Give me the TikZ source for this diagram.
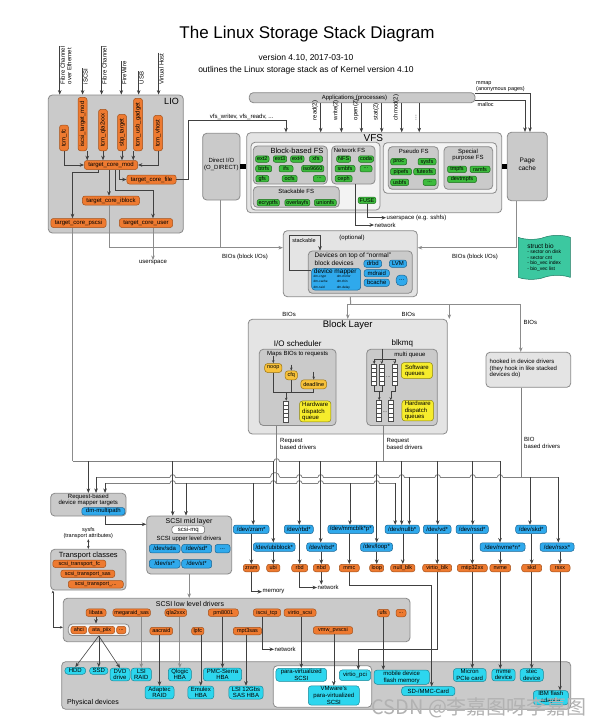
\documentclass[tikz,border=0pt]{standalone}
\usepackage{fontspec}
\setmainfont{Liberation Sans}
\newfontfamily\wmfont{Noto Sans CJK SC}
\usetikzlibrary{arrows.meta,fit,shapes.symbols}

\definecolor{boxgray}{HTML}{CACACA}
\definecolor{lightgray2}{HTML}{E4E4E4}
\definecolor{palegray}{HTML}{F3F3F3}
\definecolor{edgegray}{HTML}{8A8A8A}
\definecolor{orangeF}{HTML}{EE7A30}
\definecolor{orangeD}{HTML}{A4511A}
\definecolor{greenF}{HTML}{3DBB3D}
\definecolor{greenD}{HTML}{1E6E1E}
\definecolor{blueF}{HTML}{2FA9EC}
\definecolor{blueD}{HTML}{1B6694}
\definecolor{cyanF}{HTML}{2DD6EE}
\definecolor{cyanD}{HTML}{1A8797}
\definecolor{yellowF}{HTML}{F6EC2C}
\definecolor{yellowD}{HTML}{8C8414}
\definecolor{goldF}{HTML}{F7C13A}
\definecolor{goldD}{HTML}{9A7414}
\definecolor{tealF}{HTML}{3CC8A0}
\definecolor{tealD}{HTML}{1E7A62}

\newcommand\fsz[2]{\fontsize{#1}{#2}\selectfont}
% queue stack: name, x, top
\newcommand\qstack[3]{%
  \node[qbox, anchor=north] (#1) at (#2,#3) {};
  \foreach \k in {1,...,4}
    \draw[black!70, line width=0.4pt] ([yshift=-\k*4.2pt]#1.north west) -- ([yshift=-\k*4.2pt]#1.north east);}
% hop of a bus line over a crossing line: x, y
\newcommand\bushop[2]{%
  \fill[white] (#1-2.7,#2-0.8) rectangle (#1+2.7,#2+0.8);
  \draw[bus] (#1-2.7,#2) arc[start angle=180, end angle=360, radius=2.7];}

\begin{document}
\begin{tikzpicture}[x=1pt,y=-1pt]
\tikzset{ >={Stealth[length=4.5pt,width=3.6pt]},
  box/.style={draw=edgegray, fill=boxgray, rounded corners=4pt, line width=0.8pt, inner sep=0pt},
  lbox/.style={box, fill=lightgray2},
  pbox/.style={box, fill=palegray},
  pill/.style={rounded corners=2.5pt, line width=0.5pt, inner ysep=0.6pt, minimum height=8pt, font=\fsz{6}{6.5}},
  opill/.style={pill, fill=orangeF, draw=orangeD, inner xsep=1.5pt, font=\fsz{5.5}{6}, minimum height=7.5pt},
  liopill/.style={pill, fill=orangeF, draw=orangeD, inner xsep=4pt, minimum height=9pt},
  gpill/.style={pill, fill=greenF, draw=greenD, inner xsep=1.5pt, minimum height=6.5pt, font=\fsz{5.5}{6}, rounded corners=2pt},
  bpill/.style={pill, fill=blueF, draw=blueD, inner xsep=2pt, minimum height=8.5pt},
  cpill/.style={pill, fill=cyanF, draw=cyanD, inner xsep=3pt, inner ysep=1pt, align=center, minimum height=7pt, font=\fsz{6}{6.6}, rounded corners=3pt},
  ypill/.style={pill, fill=yellowF, draw=yellowD, align=left, inner xsep=1.5pt, font=\fsz{6}{6.2}, rounded corners=3pt},
  qpill/.style={pill, fill=goldF, draw=goldD, inner xsep=2.5pt, minimum height=9pt, font=\fsz{5.5}{6}, rounded corners=3pt},
  qbox/.style={draw=black!70, fill=white, line width=0.5pt, minimum width=5pt, minimum height=21pt, inner sep=0pt},
  lbl/.style={font=\fsz{6}{6.7}, inner sep=0.5pt},
  link/.style={draw=black!75, line width=0.6pt},
  glink/.style={draw=black!45, line width=1pt},
  bus/.style={draw=black!50, line width=0.8pt},
  sarr/.style={-{Stealth[length=3pt,width=2.6pt]}},
  darr/.style={{Stealth[length=3pt,width=2.6pt]}-{Stealth[length=3pt,width=2.6pt]}},
}

\fill[white] (0,0) rectangle (596,728);
\useasboundingbox (0,0) rectangle (596,728);

% title
\node[font=\fsz{17}{20}] (title) at (307,34) {The Linux Storage Stack Diagram};
\node[font=\fsz{8.5}{10}] (vers) at (306,58) {version 4.10, 2017-03-10};
\node[font=\fsz{8.5}{10}] (outl) at (306,70) {outlines the Linux storage stack as of Kernel version 4.10};

% LIO
\node[box, fit={(48.3,95) (183.3,233)}] (lio) {};
\node[font=\fsz{9}{10}] (liot) at (171.5,101.5) {LIO};

\node[lbl, rotate=90, anchor=west, align=left] (lfcoe) at (66,85) {Fibre Channel\\over Ethernet};
\node[lbl, rotate=90, anchor=west] (lisc) at (85.5,85) {iSCSI};
\node[lbl, rotate=90, anchor=west] (lfc) at (104.5,85) {Fibre Channel};
\node[lbl, rotate=90, anchor=west] (lfw) at (124.2,85) {FireWire};
\node[lbl, rotate=90, anchor=west] (lusb) at (141.5,85) {USB};
\node[lbl, rotate=90, anchor=west] (lvh) at (161.5,85) {Virtual Host};
\foreach \lv in {lfcoe,lisc,lfc,lfw,lusb,lvh}
  \draw[link,->] (\lv.north east) -- (\lv.north east |- lio.north);

\node[liopill, rotate=90, anchor=west] (tcmfc) at (64,151) {tcm\_fc};
\node[liopill, rotate=90, anchor=west] (iscsi) at (82.5,151) {iscsi\_target\_mod};
\node[liopill, rotate=90, anchor=west] (tcmqla) at (103,151) {tcm\_qla2xxx};
\node[liopill, rotate=90, anchor=west] (sbp) at (122,151) {sbp\_target};
\node[liopill, rotate=90, anchor=west] (tcmusb) at (138,151) {tcm\_usb\_gadget};
\node[liopill, rotate=90, anchor=west] (vhost) at (158,151) {tcm\_vhost};

\node[liopill] (tcmmod) at (111,165) {target\_core\_mod};
\node[liopill] (tcmfile) at (151.5,179.5) {target\_core\_file};
\node[liopill] (tcmibl) at (111,200.5) {target\_core\_iblock};
\node[liopill] (tcmpscsi) at (78.5,223) {target\_core\_pscsi};
\node[liopill] (tcmuser) at (146,223) {target\_core\_user};

\draw[link,->] (tcmfc.west) |- (tcmmod.west);
\draw[link,->] (iscsi.south west) -- (iscsi.south west |- tcmmod.north);
\draw[link,->] (tcmqla.west) -- (tcmqla.west |- tcmmod.north);
\draw[link,->] (sbp.west) -- (sbp.west |- tcmmod.north);
\draw[link,->] (tcmusb.north west) -- (tcmusb.north west |- tcmmod.north);
\draw[link,->] (vhost.west) |- (tcmmod.east);

\draw[link,->] ([xshift=-13pt]tcmmod.south) -- ++(0,3) -| ([xshift=-6pt]tcmpscsi.north);
\draw[link,->] ([xshift=-2pt]tcmmod.south) -- ([xshift=-2pt]tcmibl.north);
\draw[link,->] ([xshift=8pt]tcmmod.south) |- (tcmfile.west);
\draw[link,->] ([xshift=4pt]tcmmod.south) -- ++(0,21) -| ([xshift=7pt]tcmuser.north);

\node[lbl] (usp) at (153,263) {userspace};
\draw[glink,->] ([xshift=7pt]tcmuser.south) -- (usp.north);

% applications, syscalls
\node[box, fit={(249.3,92.7) (475,102.7)}] (apps) {};
\node[lbl] (appst) at (354.5,97.7) {Applications (processes)};

\node[box, fit={(202.7,133.3) (240,200)}, font=\fsz{6}{7}, align=center] (dio) {Direct I/O\\(O\_DIRECT)};
\node[box, fit={(507.3,132.3) (547.3,200.7)}, font=\fsz{6.5}{7.5}, align=center] (pgc) {Page\\cache};

% VFS
\node[lbox, fit={(246.7,132.7) (501.7,212.7)}] (vfs) {};
\node[font=\fsz{10}{11}] (vfst) at (373.3,137.8) {VFS};
\node[pbox, fit={(251,142.3) (380,210)}] (vfsa) {};
\node[pbox, fit={(383.3,142.7) (496.7,193.3)}] (vfsb) {};

\foreach \n/\t/\x in {rd/read(2)/315, wr/write(2)/335.7, op/open(2)/355.7, st/stat(2)/376, ch/chmod(2)/396}{
  \node[lbl, rotate=90, anchor=west] (sc\n) at (\x,121) {\t};
  \draw[link,->] ([xshift=2.2pt]sc\n.south |- apps.south) -- ([xshift=2.2pt]sc\n.south |- vfs.north);
}
\node[lbl, rotate=90, anchor=west] (scdt) at (416,121) {...};
\draw[link,->] ([xshift=2.2pt]scdt.south |- apps.south) -- ([xshift=2.2pt]scdt.south |- vfs.north);

\node[lbl, anchor=south] (vfsw) at (241.7,120.5) {vfs\_writev, vfs\_readv, ...};
\draw[link,->] (tcmfile.east) -- ++(12,0) |- (vfsw.south) -| ([xshift=-88.2pt]vfs.north);

\draw[line width=4.5pt] (dio.east) -- (dio.east -| vfs.west);
\draw[line width=4.5pt] (pgc.west -| vfs.east) -- (pgc.west);

\node[font=\fsz{5.5}{6}, anchor=south west, align=left, inner sep=0.5pt] (mmapl) at (475.5,92.5) {mmap\\(anonymous pages)};
\node[font=\fsz{5.5}{6}, anchor=north west, inner sep=0.5pt] (mallocl) at (477,101.8) {malloc};
\draw[link,->] ([yshift=4.5pt]apps.east) -| ([xshift=2.7pt]pgc.north);
\draw[link,->] ([yshift=-3pt]apps.east) -| ([xshift=-2.3pt]pgc.north);

% block-based FS
\node[box, fit={(253.3,146) (327.3,184)}] (bbfs) {};
\node[font=\fsz{7.5}{8}] (bbfst) at (297,150.7) {Block-based FS};
\node[gpill] (ext2) at (262.3,159) {ext2};
\node[gpill] (ext3) at (280,159) {ext3};
\node[gpill] (ext4) at (297.3,159) {ext4};
\node[gpill, minimum width=13pt] (xfs) at (316,159) {xfs};
\node[gpill, minimum width=16pt] (btrfs) at (263.7,168.7) {btrfs};
\node[gpill, minimum width=14pt] (ifs) at (286,168.7) {ifs};
\node[gpill] (iso) at (312.7,168.7) {iso9660};
\node[gpill, minimum width=13pt] (gfs) at (262.3,178.7) {gfs};
\node[gpill, minimum width=15pt] (ocfs) at (289.7,178.7) {ocfs};
\node[gpill, minimum width=12pt] (bbdots) at (319.3,178.7) {...};

% network FS
\node[box, fit={(331.7,146) (375,184)}] (nfsb) {};
\node[lbl] (nfst) at (349.5,150.7) {Network FS};
\node[gpill, minimum width=14pt] (nfs) at (343.7,159) {NFS};
\node[gpill, minimum width=15pt] (coda) at (366,159) {coda};
\node[gpill, minimum width=20pt] (smbfs) at (345,168.7) {smbfs};
\node[gpill, minimum width=12pt] (nfdots) at (366,168.7) {...};
\node[gpill, minimum width=17pt] (ceph) at (343.7,178.7) {ceph};

% stackable FS
\node[box, fit={(253.3,186.7) (339.3,207.3)}] (skfs) {};
\node[lbl] (skfst) at (296.3,191.7) {Stackable FS};
\node[gpill, minimum width=22pt] (ecr) at (268.3,202.7) {ecryptfs};
\node[gpill, minimum width=25pt] (ovl) at (297.3,202.7) {overlayfs};
\node[gpill, minimum width=22pt] (uni) at (325.3,202.7) {unionfs};
\node[gpill, minimum width=12pt] (fuse) at (367,200.3) {FUSE};

\node[lbl, anchor=west] (usp2) at (386,217.7) {userspace (e.g. sshfs)};
\node[lbl, anchor=west] (netv) at (374,225) {network};
\draw[link,->] (fuse.south) |- (usp2.west);
\draw[link,->] ([xshift=2.4pt]nfsb.south) |- (netv.west);

% pseudo FS
\node[box, fit={(388.3,146.7) (438.3,189.3)}] (psfs) {};
\node[lbl] (psfst) at (413.8,151) {Pseudo FS};
\node[gpill, minimum width=16pt] (proc) at (398.7,161.7) {proc};
\node[gpill, minimum width=18pt] (sysfs) at (427,161.7) {sysfs};
\node[gpill, minimum width=21pt] (pipefs) at (401,171.7) {pipefs};
\node[gpill, minimum width=22pt] (futex) at (424.7,171.7) {futexfs};
\node[gpill, minimum width=18pt] (usbfs) at (399.7,182.3) {usbfs};
\node[gpill, minimum width=13pt] (psdots) at (429.7,182.3) {...};

% special purpose FS
\node[box, fit={(444,146.7) (492.7,189.3)}] (spfs) {};
\node[lbl, align=center] (spfst) at (468,154.8) {Special\\purpose FS};
\node[gpill, minimum width=19pt] (tmpfs) at (457,169.3) {tmpfs};
\node[gpill, minimum width=20pt] (ramfs) at (480,169.3) {ramfs};
\node[gpill, minimum width=29pt] (devtmp) at (462,179.3) {devtmpfs};

% struct bio
\node[tape, tape bend height=4pt, fill=tealF, draw=tealD, line width=0.5pt,
  minimum width=52pt, minimum height=44pt, anchor=north west, align=left, inner xsep=4pt,
  font=\fsz{5}{5.6}] (sbio) at (518,237) {{\fsz{6.5}{8}struct bio}\\- sector on disk\\- sector cnt\\- bio\_vec index\\- bio\_vec list};

% stacked block devices
\node[lbox, fit={(283.3,230.7) (417.3,296.7)}] (stk) {};
\node[lbl] (optl) at (352,238.3) {(optional)};
\node[box, fit={(308.3,251) (412.3,293.3)}] (devb) {};
\node[font=\fsz{6.5}{7.3}, anchor=north west, align=left, inner sep=0pt] (devbt) at (314.5,252.8) {Devices on top of ``normal''\\block devices};
\node[fill=blueF, draw=blueD, rounded corners=3pt, line width=0.5pt, inner sep=0pt, fit={(311.7,268.3) (360.7,290)}] (dmbox) {};
\node[font=\fsz{6.5}{7}, anchor=west, inner sep=0pt] (dmt) at (313.7,271.9) {device mapper};
\node[font=\fsz{3.2}{5.2}, anchor=north west, align=left, inner sep=0pt] (dmla) at (313.5,275.2) {dm-crypt\\dm-cache\\dm-raid};
\node[font=\fsz{3.2}{5.2}, anchor=north west, align=left, inner sep=0pt] (dmlb) at (336.7,275.2) {dm-mirror\\dm-thin\\dm-delay};
\node[bpill, minimum height=7.3pt, minimum width=17.7pt] (drbd) at (372.8,263.7) {drbd};
\node[bpill, minimum height=7.3pt, minimum width=17.3pt] (lvm) at (398,263.7) {LVM};
\node[bpill, minimum height=7.3pt, minimum width=25.3pt] (mdraid) at (376.7,273.3) {mdraid};
\node[bpill, minimum height=7.3pt, minimum width=25.3pt] (bcache) at (376.7,282.7) {bcache};
\node[bpill, minimum height=10.5pt, minimum width=11pt, rounded corners=4pt] (stdots) at (401.7,280.3) {...};

\node[font=\fsz{5.5}{6}, inner sep=0pt] (stkl) at (304,240.4) {stackable};
\draw[link,->] ([yshift=-2pt]dmbox.north west) -- ++(-21.7,0) |- ([xshift=-40.3pt,yshift=15pt]devb.north) -- ([xshift=-40.3pt]devb.north);

\node[lbl] (biosl) at (245,256.7) {BIOs (block I/Os)};
\node[lbl] (biosr) at (475,256.7) {BIOs (block I/Os)};
\draw[glink,->] ([xshift=-2pt]tcmibl.south) |- ([yshift=16pt]stk.west);
\draw[glink] ([xshift=-1.3pt]dio.south) -- ([xshift=-1.3pt,yshift=16pt]dio.south |- stk.west);
\draw[glink,->] ([xshift=-11.3pt]pgc.south) |- ([yshift=16pt]stk.east);

% block layer
\node[lbox, fit={(248.3,319.3) (447.3,434)}] (blk) {};
\node[font=\fsz{9.5}{10}] (blkt) at (347.7,325.5) {Block Layer};
\node[lbox, fit={(486,352.3) (570.7,387.3)}] (hook) {};
\node[lbl, anchor=north west, align=left] (hookt) at (489,358.5) {hooked in device drivers\\(they hook in like stacked\\devices do)};

\coordinate (bioJ) at (350.7,304);
\draw[glink] (stk.south) -- (bioJ);
\draw[glink,->] (bioJ) -| (blk.north);
\draw[glink,->] (bioJ) -| ([xshift=101.5pt]blk.north);
\draw[glink,->] (bioJ) -| ([xshift=-7.6pt]hook.north);
\node[lbl, anchor=east] (bios1) at (296.5,314.3) {BIOs};
\node[lbl, anchor=west] (bios2) at (401,314.3) {BIOs};
\node[lbl, anchor=west] (bios3) at (523,322) {BIOs};

% I/O scheduler
\node[font=\fsz{8}{9}] (iost) at (297.7,343.3) {I/O scheduler};
\node[box, fit={(259.3,349.3) (336,425.5)}] (ioin) {};
\node[lbl] (iomap) at (297.7,353.8) {Maps BIOs to requests};
\node[qpill] (noop) at (273.3,368) {noop};
\node[qpill] (cfq) at (291.3,375.3) {cfq};
\node[qpill] (ddl) at (313.7,384.3) {deadline};
\draw[link,sarr] ([yshift=7pt]noop.north) -- (noop.north);
\draw[link,sarr] ([yshift=6pt]cfq.north) -- (cfq.north);
\draw[link,sarr] ([yshift=8pt]ddl.north) -- (ddl.north);
\coordinate (ioM) at (286.2,392.7);
\qstack{sq}{286.2}{400.7}
\draw[link] (noop.south) -- (noop.south |- ioM) -- (ddl.south |- ioM) -- (ddl.south);
\draw[link] (cfq.south) -- (cfq.south |- ioM);
\draw[link,sarr] (ioM) -- (sq.north);
\node[ypill, minimum width=31.4pt, minimum height=21pt, anchor=north west] (hwq) at (299.3,400.7) {Hardware\\dispatch\\queue};

% blk-mq
\node[font=\fsz{8}{9}] (mqt) at (402.3,343.3) {blkmq};
\node[box, fit={(366.7,349.3) (437.3,425.5)}] (mqin) {};
\node[lbl] (mqml) at (410,355) {multi queue};
\qstack{sw1}{374.2}{364}
\qstack{sw2}{381.8}{364}
\qstack{sw3}{394.8}{364}
\qstack{hw1}{379.2}{400.2}
\qstack{hw2}{390.8}{400.2}
\node[font=\fsz{5}{5}, inner sep=0pt] (swdots) at (388.3,377) {...};
\node[font=\fsz{5}{5}, inner sep=0pt] (hwdots) at (385,412) {...};
\node[ypill, anchor=north west, minimum width=31.3pt, minimum height=16pt] (swq) at (401,362.3) {Software\\queues};
\node[ypill, anchor=north west, minimum width=31.6pt, minimum height=20.7pt] (hwqs) at (401.7,400) {Hardware\\dispatch\\queues};
\coordinate (mqS) at (381.8,359);
\draw[link,sarr] (sw2.north |- mqin.north) -- (sw2.north);
\draw[link] (sw1.north |- mqS) -- (sw3.north |- mqS);
\draw[link,sarr] (sw1.north |- mqS) -- (sw1.north);
\draw[link,sarr] (sw3.north |- mqS) -- (sw3.north);
\coordinate (mqL) at (379.2,391);
\coordinate (mqR) at (390.8,391);
\draw[link] (sw1.south) |- (mqL);
\draw[link] (sw2.south) |- (mqL);
\draw[link,sarr] (mqL) -- (hw1.north);
\draw[link] (sw3.south) |- (mqR);
\draw[link,sarr] (mqR) -- (hw2.north);

% driver buses: A blk-mq, B BIO based, C single queue
\coordinate (busAl) at (72.5,461.3);
\coordinate (busAr) at (500,461.3);
\coordinate (busBl) at (96,477.3);
\coordinate (busBr) at (558.3,477.3);
\coordinate (busCl) at (105,483.3);
\coordinate (busCr) at (395.2,483.3);
\draw[bus] (busAl) -- (busAr);
\draw[bus] (busBl) -- (busBr);
\draw[bus] (busCl) -- (busCr);
\bushop{276.7}{461.3}
\foreach \hx in {172.7,299.3,320.7,376.7,401.7,437.7,472.7,500}{\bushop{\hx}{477.3}}
\fill[white] (270.3,476.5) rectangle (279.7,478.1);
\draw[bus] (270.3,477.3) arc[start angle=180, end angle=360, radius=4.7];
\foreach \hx in {172.7,273.3,299.3,320.7,376.7}{\bushop{\hx}{483.3}}

\draw[glink] ([xshift=-6pt]tcmpscsi.south) -- (busAl);
\draw[bus] ([xshift=-21pt]ioin.south) -- ([xshift=-21pt]ioin.south |- busCl);
\draw[bus] ([xshift=-18.7pt]mqin.south) -- ([xshift=-18.7pt]mqin.south |- busAl);
\draw[bus] ([xshift=-6.6pt]hook.south) -- ([xshift=-6.6pt]hook.south |- busBl);
\node[lbl, anchor=north west, align=left] (rqa) at (279.5,437.5) {Request\\based drivers};
\node[lbl, anchor=north west, align=left] (rqb) at (386,437.5) {Request\\based drivers};
\node[lbl, anchor=north west, align=left] (biod) at (523.5,437) {BIO\\based drivers};

% request-based device mapper, transport classes
\node[box, fit={(50.7,493.3) (126,516)}] (rdm) {};
\node[lbl, align=center] (rdmt) at (88.3,499.8) {Request-based\\device mapper targets};
\node[bpill, minimum height=7.5pt, minimum width=43pt] (mpath) at (103.3,511.3) {dm-multipath};
\node[lbl, font=\fsz{5.5}{6.3}, align=center] (sysfsl) at (88.3,532.8) {sysfs\\(transport attributes)};
\node[box, fit={(50.7,549.3) (126,590)}] (trc) {};
\node[font=\fsz{7.5}{8.5}] (trct) at (88.3,555.3) {Transport classes};
\node[opill, minimum width=53pt] (stfc) at (79.3,563.8) {scsi\_transport\_fc};
\node[opill, minimum width=54pt] (stsas) at (87.8,573.8) {scsi\_transport\_sas};
\node[opill, minimum width=55pt] (stdot) at (95.8,584.3) {scsi\_transport\_...};
\draw[link,darr] (sysfsl.south) -- (sysfsl.south |- trc.north);

% SCSI mid layer
\node[box, fit={(146.7,516) (231.7,574)}] (midl) {};
\node[font=\fsz{7}{8}] (midt) at (189,521.5) {SCSI mid layer};
\node[pill, fill=white, draw=black!60, inner xsep=6pt, minimum height=7.5pt] (smq) at (188.3,529.7) {scsi-mq};
\node[lbl] (uldt) at (189,538.7) {SCSI upper level drivers};
\node[bpill, minimum width=30.7pt] (sda) at (164.7,548.7) {/dev/sda};
\node[bpill, minimum width=30pt] (sdx) at (196.7,548.7) {/dev/sd*};
\node[bpill, minimum width=15pt] (ulddots) at (222.5,548.7) {...};
\node[bpill, minimum width=30.7pt] (srx) at (164.7,563.8) {/dev/sr*};
\node[bpill, minimum width=30pt] (stx) at (196.7,563.8) {/dev/st*};

\draw[link,->] (rdm.north |- busAl) -- (rdm.north);
\draw[link,->] ([xshift=7.7pt]rdm.north |- busBl) -- ([xshift=7.7pt]rdm.north);
\draw[link,->] ([xshift=16.7pt]rdm.north |- busCl) -- ([xshift=16.7pt]rdm.north);
\draw[link,->] ([xshift=-16.5pt]midl.north |- busAl) -- ([xshift=-16.5pt]midl.north);
\draw[link,->] ([xshift=-3.2pt]midl.north |- busCl) -- ([xshift=-3.2pt]midl.north);
\draw[link,->] ([xshift=16.7pt]rdm.south) |- ([yshift=20.7pt]midl.west);

% block device nodes
\node[bpill, minimum width=35.7pt] (zramd) at (251.2,529.3) {/dev/zram*};
\node[bpill, minimum width=41.7pt] (ubid) at (274.2,547) {/dev/ubiblock*};
\node[bpill, minimum width=29pt] (rbdd) at (298.8,529.3) {/dev/rbd*};
\node[bpill, minimum width=30pt] (nbdd) at (321.7,547) {/dev/nbd*};
\node[bpill, minimum width=45pt] (mmcd) at (350.8,529.3) {/dev/mmcblk*p*};
\node[bpill, minimum width=32pt] (loopd) at (376.5,547) {/dev/loop*};
\node[bpill, minimum width=34.3pt] (nulld) at (402.2,529.3) {/dev/nullb*};
\node[bpill, minimum width=27.7pt] (vdd) at (437.2,529.3) {/dev/vd*};
\node[bpill, minimum width=32.3pt] (rssdd) at (472.2,529.3) {/dev/rssd*};
\node[bpill, minimum width=45pt] (nvmed) at (502.5,547) {/dev/nvme*n*};
\node[bpill, minimum width=31pt] (skdd) at (531.2,529.3) {/dev/skd*};
\node[bpill, minimum width=34pt] (rsxxd) at (557,547) {/dev/rsxx*};

\draw[link,->] ([xshift=2pt]zramd.north |- busCl) -- ([xshift=2pt]zramd.north);
\draw[link,->] ([xshift=-0.9pt]ubid.north |- busAl) -- ([xshift=-0.9pt]ubid.north);
\draw[link,->] ([xshift=0.5pt]rbdd.north |- busAl) -- ([xshift=0.5pt]rbdd.north);
\draw[link,->] ([xshift=-1pt]nbdd.north |- busAl) -- ([xshift=-1pt]nbdd.north);
\draw[link,->] ([xshift=-0.8pt]mmcd.north |- busCl) -- ([xshift=-0.8pt]mmcd.north);
\draw[link,->] ([xshift=0.2pt]loopd.north |- busAl) -- ([xshift=0.2pt]loopd.north);
\draw[link,->] ([xshift=-7pt]nulld.north |- busCl) -- ([xshift=-7pt]nulld.north);
\draw[link,->] ([xshift=-0.5pt]nulld.north |- busAl) -- ([xshift=-0.5pt]nulld.north);
\draw[link,->] ([xshift=7.1pt]nulld.north |- busBl) -- ([xshift=7.1pt]nulld.north);
\draw[link,->] ([xshift=0.5pt]vdd.north |- busAl) -- ([xshift=0.5pt]vdd.north);
\draw[link,->] ([xshift=0.5pt]rssdd.north |- busAl) -- ([xshift=0.5pt]rssdd.north);
\draw[link,->] ([xshift=-2.5pt]nvmed.north |- busAl) -- ([xshift=-2.5pt]nvmed.north);
\draw[link,->] ([xshift=-1.2pt]skdd.north |- busBl) -- ([xshift=-1.2pt]skdd.north);
\draw[link,->] ([xshift=1.3pt]rsxxd.north |- busBl) -- ([xshift=1.3pt]rsxxd.north);

% block drivers
\node[opill, minimum width=16pt] (zram) at (251.3,568) {zram};
\node[opill, minimum width=13.3pt] (ubi) at (273.3,568) {ubi};
\node[opill, minimum width=16pt] (rbd) at (299.7,568) {rbd};
\node[opill, minimum width=16pt] (nbd) at (321.3,568) {nbd};
\node[opill, minimum width=20pt] (mmc) at (349.3,568) {mmc};
\node[opill, minimum width=14pt] (loop) at (376.7,568) {loop};
\node[opill, minimum width=24.3pt] (nullblk) at (402.8,568) {null\_blk};
\node[opill, minimum width=29pt] (vblk) at (437.2,568) {virtio\_blk};
\node[opill, minimum width=30pt] (mtip) at (472.3,568) {mtip32xx};
\node[opill, minimum width=20.7pt] (nvme) at (500.3,568) {nvme};
\node[opill, minimum width=20pt] (skd) at (531.7,568) {skd};
\node[opill, minimum width=20pt] (rsxx) at (560,568) {rsxx};
\foreach \dv/\rv in {zramd/zram, ubid/ubi, rbdd/rbd, nbdd/nbd, mmcd/mmc, loopd/loop, nulld/nullblk, vdd/vblk, rssdd/mtip, nvmed/nvme, skdd/skd, rsxxd/rsxx}
  \draw[link,->] (\dv.south -| \rv.north) -- (\rv.north);

\node[lbl, anchor=west] (meml) at (262,591.7) {memory};
\node[lbl, anchor=west] (netl2) at (317,587.5) {network};
\draw[link,->] (zram.south) |- (meml.west);
\draw[link,->] (rbd.south) |- (netl2.west);
\draw[link,->] (nbd.south) -- (nbd.south |- netl2.north);

% SCSI low level drivers
\node[box, fit={(63.3,598.3) (410,641.7)}] (lld) {};
\node[font=\fsz{7}{8}] (lldt) at (190,603.5) {SCSI low level drivers};
\draw[glink,->] (midl.south) -- (midl.south |- lld.north);
\draw[link,darr] ([xshift=2.6pt]trc.south west) |- ([yshift=-7.3pt]lld.west);

\node[opill, minimum width=20pt] (libata) at (96,612.7) {libata};
\node[opill, minimum width=33.3pt] (mega) at (131.7,612.7) {megaraid\_sas};
\node[opill, minimum width=18.3pt] (qla) at (175.8,612.7) {qla2xxx};
\node[opill, minimum width=30pt] (pm) at (223.3,612.7) {pm8001};
\node[opill, minimum width=27.4pt] (istcp) at (267,612.7) {iscsi\_tcp};
\node[opill, minimum width=32pt] (vscsi) at (300,612.7) {virtio\_scsi};
\node[opill, minimum width=12pt] (ufs) at (383.3,613) {ufs};
\node[opill, minimum width=10pt] (llddots) at (401,613) {...};
\node[pbox, fit={(68.3,624) (129.3,635.5)}] (ahcig) {};
\node[opill, minimum width=15.7pt] (ahci) at (78.8,630) {ahci};
\node[opill, minimum width=26pt] (piix) at (101.7,630) {ata\_piix};
\node[opill, minimum width=9.3pt] (ahdots) at (121.3,630) {...};
\node[opill, minimum width=22.7pt] (aac) at (161.3,631) {aacraid};
\node[opill, minimum width=12.3pt] (lpfc) at (197.8,631) {lpfc};
\node[opill, minimum width=28.4pt] (mpt) at (247.5,631) {mpt3sas};
\node[opill, minimum width=39.4pt] (vmw) at (333,630.3) {vmw\_pvscsi};
\draw[link,->] (libata.south) -- (libata.south |- ahcig.north);
\node[lbl, anchor=west] (netl3) at (274,649.3) {network};
\draw[link,->] ([xshift=-4.3pt]istcp.south) |- (netl3.west);

% physical devices
\node[box, fit={(61.7,661.7) (570.7,709.3)}] (phys) {};
\node[pbox, fill=white, fit={(273.3,665.7) (371.7,707.3)}] (virt) {};
\node[font=\fsz{7}{8}, anchor=west] (physt) at (63.5,702.7) {Physical devices};
\node[cpill, minimum width=20.7pt] (hdd) at (75.3,670.8) {HDD};
\node[cpill, minimum width=17.7pt] (ssd) at (98.8,670.8) {SSD};
\node[cpill, minimum width=20pt] (dvd) at (120,674.5) {DVD\\drive};
\node[cpill, minimum width=17.3pt] (lsir) at (141.3,674.5) {LSI\\RAID};
\node[cpill, minimum width=21.7pt] (qlog) at (179.8,674.5) {Qlogic\\HBA};
\node[cpill, minimum width=38.4pt] (pmc) at (222.5,674.5) {PMC-Sierra\\HBA};
\node[cpill, minimum width=29pt] (adap) at (159.5,692.5) {Adaptec\\RAID};
\node[cpill, minimum width=25pt] (emul) at (200.8,692.5) {Emulex\\HBA};
\node[cpill, minimum width=33.4pt] (lsi12) at (246,692.5) {LSI 12Gbs\\SAS HBA};
\node[cpill, minimum width=50.7pt] (pvs) at (301.3,674.8) {para-virtualized\\SCSI};
\node[cpill, minimum width=51pt] (vmws) at (333.8,695.5) {VMware's\\para-virtualized\\SCSI};
\node[cpill, minimum width=31.4pt, minimum height=10.7pt] (vpci) at (355,675.3) {virtio\_pci};
\node[cpill, minimum width=55.3pt] (mob) at (401.7,677.2) {mobile device\\flash memory};
\node[cpill, minimum width=53.3pt, minimum height=9pt] (sdc) at (428.3,691.2) {SD-/MMC-Card};
\node[cpill, minimum width=32.7pt] (micron) at (469.7,675) {Micron\\PCIe card};
\node[cpill, minimum width=21.6pt] (nvmedev) at (503.5,675) {nvme\\device};
\node[cpill, minimum width=22pt] (stec) at (531.7,675) {stec\\device};
\node[cpill, minimum width=35pt] (ibm) at (550.8,697.7) {IBM flash\\adapter};

\draw[link,->] (ahcig.south) -- (hdd.north);
\draw[link,->] (ahcig.south) -- (ssd.north);
\draw[link,->] (ahcig.south) -- (dvd.north);
\draw[glink,->] (mega.south -| lsir.north) -- (lsir.north);
\draw[link,->] (aac.south -| adap.north) -- (adap.north);
\draw[glink,->] (qla.south -| qlog.north) -- (qlog.north);
\draw[link,->] (lpfc.south -| emul.north) -- (emul.north);
\draw[link,->] (pm.south -| pmc.north) -- (pmc.north);
\draw[link,->] (mpt.south -| lsi12.north) -- (lsi12.north);
\draw[link,->] (vscsi.south -| pvs.north) -- (pvs.north);
\draw[link,->] (vmw.south -| vmws.north) -- (vmws.north);
\draw[link,->] (ufs.south) -- (ufs.south |- mob.north);
\draw[link,->] (vblk.south) |- ([xshift=3.3pt,yshift=20pt]vpci.north) -- ([xshift=3.3pt]vpci.north);
\draw[link,->] (mmc.south) -- ++(0,13) -| ([xshift=3.4pt]sdc.north);
\draw[link,->] (mtip.south) -- (mtip.south |- micron.north);
\draw[link,->] (nvme.south) -- (nvme.south |- nvmedev.north);
\draw[link,->] (skd.south) -- (skd.south |- stec.north);
\draw[link,->] (rsxx.south) -- (rsxx.south |- ibm.north);

% watermark
\node[font=\wmfont\fsz{20}{22}, text=black!30, anchor=west, inner sep=0pt] (wm) at (371,707.5) {CSDN @李嘉图呀李嘉图};

\end{tikzpicture}
\end{document}
